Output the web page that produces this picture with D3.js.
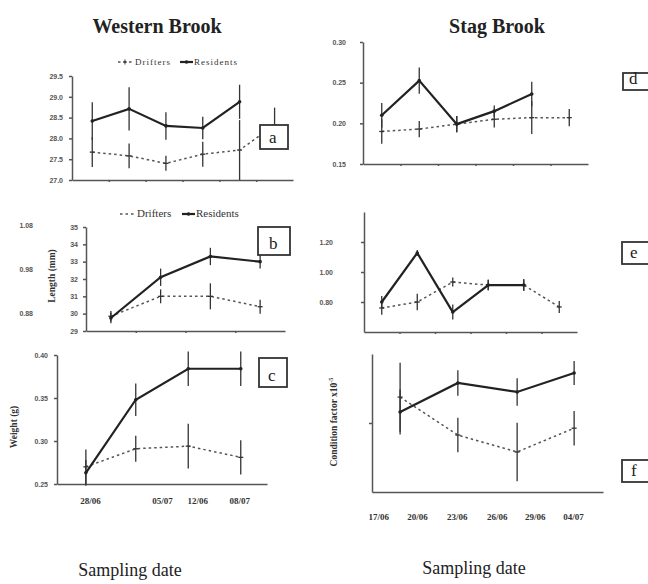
<!DOCTYPE html>
<html>
<head>
<meta charset="utf-8">
<script src="https://cdn.jsdelivr.net/npm/d3@7"></script>
<style>
  body { margin: 0; background: #fff; }
  svg { display: block; font-family: 'Liberation Serif', 'Times New Roman', serif; }
  .axis path, .axis line { stroke: #555; stroke-width: 1.5px; fill: none; }
  .axis text { font-family: 'Liberation Sans', Arial, sans-serif; font-size: 7px; font-weight: bold; fill: #555; }
  .date-axis text { font-family: 'Liberation Serif', serif; font-size: 9px; font-weight: bold; fill: #333; }
  .residents { stroke: #222; stroke-width: 2.2px; fill: none; }
  .drifters { stroke: #555; stroke-width: 1.5px; stroke-dasharray: 2.5 3; fill: none; }
  .err { stroke: #333; stroke-width: 1.3px; }
  .y-label { font-size: 9.5px; font-weight: bold; fill: #333; }
  .title { font-size: 20px; font-weight: bold; fill: #222; }
  .x-title { font-size: 18px; fill: #222; }
  .letter-box rect { fill: #fff; stroke: #333; stroke-width: 1.8px; }
  .letter-box text { font-size: 17px; fill: #222; }
  .legend text { fill: #333; }
</style>
</head>
<body>
<div id="chart"></div>
<script>
// ---- Western Brook (a) ----
const residentSlotsA = [0.55, 1.55, 2.55, 3.55, 4.55];
const residentsA = [28.42, 28.71, 28.30, 28.25, 28.88];
const residentsErrA = [0.45, 0.52, 0.33, 0.27, 0.41];
const drifterSlotsA = [0.55, 1.55, 2.55, 3.55, 4.55, 5.5];
const driftersA = [27.67, 27.58, 27.40, 27.62, 27.72, 28.32];
const driftersErrA = [0.36, 0.30, 0.18, 0.30, 0.72, 0.42];
const yTicksA = [27.0, 27.5, 28.0, 28.5, 29.0, 29.5];

// ---- Western Brook (b) length ----
const slotsB = [0.5, 1.5, 2.5, 3.5];
const residentsB = [29.75, 32.1, 33.3, 33.0];
const residentsErrB = [0.3, 0.5, 0.5, 0.4];
const driftersB = [29.85, 31.0, 31.0, 30.4];
const driftersErrB = [0.3, 0.4, 0.75, 0.4];
const yTicksB = [29, 30, 31, 32, 33, 34, 35];
const strayTicks = [0.88, 0.98, 1.08];

// ---- Western Brook (c) weight ----
const slotsC = [0.55, 1.5, 2.5, 3.5];
const residentsC = [0.263, 0.348, 0.384, 0.384];
const residentsErrC = [0.015, 0.019, 0.02, 0.02];
const driftersC = [0.270, 0.291, 0.294, 0.281];
const driftersErrC = [0.02, 0.015, 0.026, 0.02];
const yTicksC = [0.25, 0.30, 0.35, 0.40];
const dateLabelsC = ['28/06', '05/07', '12/06', '08/07'];
const dateSlotsC = [0.63, 2.0, 2.67, 3.47];

// ---- Stag Brook (d) ----
const residentSlotsD = [0.5, 1.5, 2.5, 3.5, 4.5];
const residentsD = [0.210, 0.2525, 0.199, 0.215, 0.236];
const residentsErrD = [0.015, 0.016, 0.01, 0.007, 0.015];
const drifterSlotsD = [0.5, 1.5, 2.5, 3.5, 4.5, 5.5];
const driftersD = [0.190, 0.193, 0.199, 0.205, 0.207, 0.207];
const driftersErrD = [0.015, 0.01, 0.01, 0.01, 0.02, 0.0105];
const yTicksD = [0.15, 0.20, 0.25, 0.30];

// ---- Stag Brook (e) ----
const residentSlotsE = [0.5, 1.5, 2.5, 3.5, 4.5];
const residentsE = [0.80, 1.127, 0.733, 0.913, 0.913];
const residentsErrE = [0.04, 0.02, 0.05, 0.035, 0.04];
const drifterSlotsE = [0.5, 1.5, 2.5, 3.5, 4.5, 5.5];
const driftersE = [0.76, 0.80, 0.933, 0.913, 0.913, 0.767];
const driftersErrE = [0.045, 0.055, 0.03, 0.035, 0.035, 0.04];
const yTicksE = [0.80, 1.00, 1.20];

// ---- Stag Brook (f) condition factor ----
const slotsF = [0.73, 2.23, 3.77, 5.25];
const residentsF = [1.032, 1.116, 1.090, 1.145];
const residentsErrF = [0.065, 0.037, 0.04, 0.035];
const driftersF = [1.075, 0.965, 0.916, 0.985];
const driftersErrF = [0.1, 0.05, 0.085, 0.05];
const yTicksF = [1.0];
const dateLabelsF = ['17/06', '20/06', '23/06', '26/06', '29/06', '04/07'];
const dateSlotsF = [0.16, 1.17, 2.2, 3.24, 4.23, 5.22];

const svg = d3.select('#chart').append('svg')
  .attr('width', 648)
  .attr('height', 584);

const toPoints = (slots, values, errs) => d3.zip(slots, values, errs)
  .map(([slot, value, err]) => ({ slot, value, err }));

class ErrorLinePanel {
  constructor(_config, _series) {
    this.config = _config;
    this.series = _series;
    this.initVis();
    this.renderVis();
  }

  initVis() {
    const vis = this;
    const c = vis.config;

    vis.g = svg.append('g').attr('class', `panel panel-${c.id}`);

    vis.xScale = d3.scaleLinear().domain(c.xDomain).range([c.left, c.right]);
    vis.yScale = d3.scaleLinear().domain(c.yDomain).range([c.bottom, c.top]);

    vis.yAxis = d3.axisLeft(vis.yScale)
      .tickValues(c.yTicks)
      .tickFormat(c.yFormat ? d3.format(c.yFormat) : '')
      .tickSize(3)
      .tickSizeOuter(0)
      .tickPadding(c.labelPad);

    vis.xAxis = d3.axisBottom(vis.xScale)
      .tickValues(c.xTicks)
      .tickFormat('')
      .tickSize(2)
      .tickSizeOuter(0);

    vis.xAxisG = vis.g.append('g')
      .attr('class', 'axis x-axis')
      .attr('transform', `translate(0,${c.bottom})`);
    vis.yAxisG = vis.g.append('g')
      .attr('class', 'axis y-axis')
      .attr('transform', `translate(${c.left},0)`);

    vis.chart = vis.g.append('g');
  }

  renderVis() {
    const vis = this;
    const c = vis.config;

    vis.xAxisG.call(vis.xAxis);
    vis.yAxisG.call(vis.yAxis);

    const line = d3.line()
      .x((d) => vis.xScale(d.slot))
      .y((d) => vis.yScale(d.value));

    vis.series.forEach((s) => {
      const sg = vis.chart.append('g').attr('class', `series-${s.cls}`);

      sg.selectAll('.err')
        .data(s.points)
        .join('line')
        .attr('class', 'err')
        .attr('x1', (d) => vis.xScale(d.slot))
        .attr('x2', (d) => vis.xScale(d.slot))
        .attr('y1', (d) => vis.yScale(d.value - d.err))
        .attr('y2', (d) => vis.yScale(d.value + d.err));

      sg.append('path')
        .datum(s.points)
        .attr('class', s.cls)
        .attr('d', line);

      if (s.cls === 'residents') {
        sg.selectAll('.dot')
          .data(s.points)
          .join('circle')
          .attr('class', 'dot')
          .attr('cx', (d) => vis.xScale(d.slot))
          .attr('cy', (d) => vis.yScale(d.value))
          .attr('r', 1.8)
          .attr('fill', '#222');
      } else {
        sg.selectAll('.cross')
          .data(s.points)
          .join('path')
          .attr('class', 'cross')
          .attr('d', (d) => {
            const x = vis.xScale(d.slot);
            const y = vis.yScale(d.value);
            return `M${x - 2.5},${y}H${x + 2.5}`;
          })
          .attr('stroke', '#333')
          .attr('stroke-width', 1.3);
      }
    });

    // date labels under the axis
    if (c.dateLabels) {
      const dateAxis = d3.axisBottom(vis.xScale)
        .tickValues(c.dateSlots)
        .tickFormat((d, i) => c.dateLabels[i])
        .tickSize(0)
        .tickPadding(c.datePad);
      vis.g.append('g')
        .attr('class', 'date-axis')
        .attr('transform', `translate(0,${c.bottom})`)
        .call(dateAxis)
        .call((g) => g.select('.domain').remove());
    }

    // rotated y title
    if (c.yLabel) {
      const t = vis.g.append('text')
        .attr('class', 'y-label')
        .attr('text-anchor', 'middle')
        .attr('transform', `translate(${c.yLabel.x},${c.yLabel.y}) rotate(-90)`)
        .text(c.yLabel.text);
      if (c.yLabel.sup) {
        t.append('tspan')
          .attr('dy', -4)
          .style('font-size', '6px')
          .text(c.yLabel.sup);
      }
    }

    // panel letter box
    const box = vis.g.append('g')
      .attr('class', 'letter-box')
      .attr('transform', `translate(${c.box.x},${c.box.y})`);
    box.append('rect')
      .attr('width', c.box.w)
      .attr('height', c.box.h);
    box.append('text')
      .attr('x', c.box.tx)
      .attr('y', c.box.h - 6)
      .text(c.id);
  }
}

const series = (rSlots, r, rErr, dSlots, dv, dErr) => [
  { cls: 'drifters', points: toPoints(dSlots, dv, dErr) },
  { cls: 'residents', points: toPoints(rSlots, r, rErr) },
];

new ErrorLinePanel({
  id: 'a', left: 72, right: 293, top: 76, bottom: 180,
  xDomain: [0, 6], yDomain: [27, 29.5], yTicks: yTicksA, yFormat: '.1f',
  labelPad: 6, xTicks: [1, 2, 3, 4, 5],
  box: { x: 260, y: 125, w: 28, h: 24, tx: 9 },
}, series(residentSlotsA, residentsA, residentsErrA, drifterSlotsA, driftersA, driftersErrA));

new ErrorLinePanel({
  id: 'b', left: 86, right: 285, top: 227, bottom: 331,
  xDomain: [0, 4], yDomain: [29, 35], yTicks: yTicksB, yFormat: 'd',
  labelPad: 5, xTicks: [1, 2, 3],
  yLabel: { text: 'Length (mm)', x: 55, y: 276 },
  box: { x: 258, y: 227, w: 32, h: 28, tx: 11 },
}, series(slotsB, residentsB, residentsErrB, slotsB, driftersB, driftersErrB));

new ErrorLinePanel({
  id: 'c', left: 57, right: 267, top: 355, bottom: 484,
  xDomain: [0, 4], yDomain: [0.25, 0.40], yTicks: yTicksC, yFormat: '.2f',
  labelPad: 6, xTicks: [],
  dateLabels: dateLabelsC, dateSlots: dateSlotsC, datePad: 14,
  yLabel: { text: 'Weight (g)', x: 17, y: 427 },
  box: { x: 259, y: 358, w: 28, h: 29, tx: 9 },
}, series(slotsC, residentsC, residentsErrC, slotsC, driftersC, driftersErrC));

new ErrorLinePanel({
  id: 'd', left: 363, right: 588, top: 42, bottom: 164,
  xDomain: [0, 6], yDomain: [0.15, 0.30], yTicks: yTicksD, yFormat: '.2f',
  labelPad: 14, xTicks: [1, 2, 3, 4, 5],
  box: { x: 623, y: 73, w: 30, h: 17, tx: 6 },
}, series(residentSlotsD, residentsD, residentsErrD, drifterSlotsD, driftersD, driftersErrD));

new ErrorLinePanel({
  id: 'e', left: 364, right: 577, top: 212, bottom: 332,
  xDomain: [0, 6], yDomain: [0.6, 1.4], yTicks: yTicksE, yFormat: '.2f',
  labelPad: 28, xTicks: [1, 2, 3, 4, 5],
  box: { x: 622, y: 242, w: 30, h: 22, tx: 8 },
}, series(residentSlotsE, residentsE, residentsErrE, drifterSlotsE, driftersE, driftersErrE));

new ErrorLinePanel({
  id: 'f', left: 372, right: 603, top: 354, bottom: 492,
  xDomain: [0, 6], yDomain: [0.8, 1.2], yTicks: yTicksF, yFormat: null,
  labelPad: 4, xTicks: [],
  dateLabels: dateLabelsF, dateSlots: dateSlotsF, datePad: 22,
  yLabel: { text: 'Condition factor x10', sup: '-5', x: 337, y: 422 },
  box: { x: 622, y: 460, w: 30, h: 22, tx: 9 },
}, series(slotsF, residentsF, residentsErrF, slotsF, driftersF, driftersErrF));

// faint stray tick labels left of panel b
const strayScale = d3.scaleLinear().domain([0.88, 1.08]).range([313, 225]);
svg.append('g')
  .attr('class', 'axis stray')
  .attr('transform', 'translate(35,0)')
  .call(d3.axisLeft(strayScale).tickValues(strayTicks).tickFormat(d3.format('.2f')).tickSize(0).tickPadding(2))
  .call((g) => g.select('.domain').remove());

// legends
function drawLegend(x, y, size, spacing, cross) {
  const lg = svg.append('g')
    .attr('class', 'legend')
    .attr('transform', `translate(${x},${y})`)
    .style('font-size', `${size}px`)
    .style('letter-spacing', `${spacing}px`);
  lg.append('line').attr('class', 'drifters').attr('x1', 0).attr('x2', 14).attr('y1', -3).attr('y2', -3);
  if (cross) {
    lg.append('path').attr('d', 'M7,-5.5V-0.5M5,-3H9').attr('stroke', '#333').attr('stroke-width', 1);
  }
  lg.append('text').attr('x', 17).text('Drifters');
  lg.append('line').attr('class', 'residents').attr('x1', 62).attr('x2', 75).attr('y1', -3).attr('y2', -3);
  lg.append('circle').attr('cx', 68.5).attr('cy', -3).attr('r', 1.8).attr('fill', '#222');
  lg.append('text').attr('x', 76).text('Residents');
}
drawLegend(118, 65, 9, 1, true);
drawLegend(120, 217, 11, 0, false);

// column titles
svg.append('text').attr('class', 'title').attr('x', 157).attr('y', 33)
  .attr('text-anchor', 'middle').text('Western Brook');
svg.append('text').attr('class', 'title').attr('x', 497).attr('y', 33)
  .attr('text-anchor', 'middle').text('Stag Brook');

svg.append('text').attr('class', 'x-title').attr('x', 130).attr('y', 576)
  .attr('text-anchor', 'middle').text('Sampling date');
svg.append('text').attr('class', 'x-title').attr('x', 474).attr('y', 574)
  .attr('text-anchor', 'middle').text('Sampling date');
</script>
</body>
</html>
